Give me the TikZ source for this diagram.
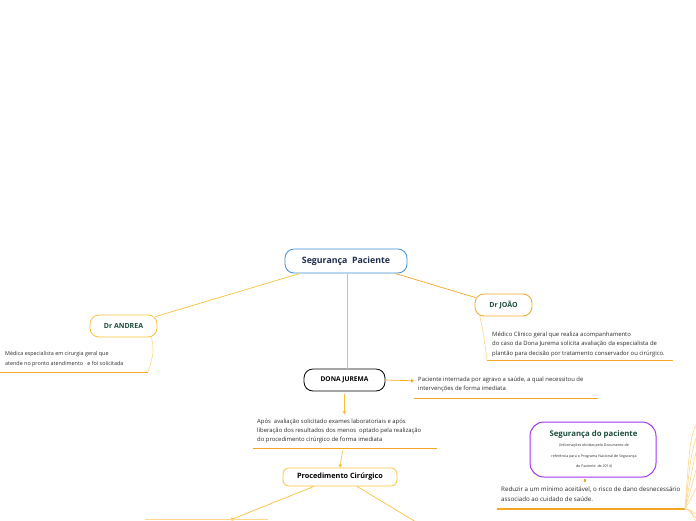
\documentclass[tikz,border=0pt]{standalone}
\usepackage{fontspec}
\setmainfont{Open Sans}
\usetikzlibrary{calc,arrows.meta}
\definecolor{lineor}{HTML}{F5A623}
\definecolor{lineye}{HTML}{F9C13A}
\definecolor{lightor}{HTML}{FFD68A}
\definecolor{bluebd}{HTML}{3D8FD1}
\definecolor{navy}{HTML}{1F2D4D}
\definecolor{dgreen}{HTML}{1D4D3B}
\definecolor{purp}{HTML}{A335F0}
\definecolor{txt}{HTML}{2B2B2B}
\tikzset{
  topic/.style={draw, rounded corners=9pt, line width=0.8pt, inner sep=0pt, align=center},
  note/.style={anchor=north west, inner sep=0pt, align=left, text=txt, font=\fontsize{5.9}{9.2}\selectfont},
  conn/.style={draw=lineye, line width=0.7pt},
  connor/.style={draw=lineor, line width=0.7pt},
  soft/.style={draw=lightor, line width=0.6pt},
  uline/.style={draw=lineor, line width=1pt},
  arr/.style={-{Triangle[length=3pt,width=3.5pt]}},
}
\begin{document}
\begin{tikzpicture}[x=1pt,y=-1pt]
\useasboundingbox (0,0) rectangle (696,520);
% main topic
\node[topic, draw=bluebd, minimum width=122pt, minimum height=24pt, text=navy, font=\fontsize{8.8}{10}\selectfont\bfseries] (seg) at (346,261) {Segurança\ \ Paciente};
% Dr ANDREA
\node[topic, draw=lineye, minimum width=67pt, minimum height=22pt, text=dgreen, font=\fontsize{7}{9}\selectfont\bfseries] (andrea) at (123.5,326) {Dr ANDREA};
\node[note, font=\fontsize{5.4}{9.4}\selectfont] (andreatxt) at (5,351.5) {Médica especialista em cirurgia geral que\\atende no pronto atendimento \ \ e foi solicitada};
\coordinate (au0) at (0,372);
\coordinate (au1) at (148,372);
\draw[uline] (au0) -- (au1);
\draw[conn] ($(seg.south)+(-46,0)$) -- ($(andrea.north east)+(-2,2)$);
\draw[soft] ($(andrea.south east)+(-6,-1)$) .. controls (154,352) .. (au1);
% Dr JOAO
\node[topic, draw=lineor, minimum width=57pt, minimum height=22pt, text=dgreen, font=\fontsize{7}{9}\selectfont\bfseries] (joao) at (503.5,305) {Dr JOÃO};
\node[note] (joaotxt) at (492,332) {Médico Clinico geral que realiza acompanhamento\\do caso da Dona Jurema solicita avaliação da especialista de\\plantão para decisão por tratamento conservador ou cirúrgico.};
\coordinate (ju0) at (487,360);
\coordinate (ju1) at (673,360);
\draw[uline] (ju0) -- (ju1);
\draw[connor] ($(seg.south)+(49,0)$) -- ($(joao.north west)+(1,4)$);
\draw[soft] ($(joao.south west)+(5,-1)$) .. controls (483,330) .. (ju0);
% DONA JUREMA
\node[topic, draw=black, line width=0.8pt, minimum width=81pt, minimum height=22pt, text=black, font=\fontsize{6.6}{9}\selectfont\bfseries] (jur) at (344.5,380) {DONA JUREMA};
\draw[conn] (seg.south) ++(1,0) coordinate (sj) -- (sj |- jur.north);
\node[note] (jurtxt) at (418,377) {Paciente internada por agravo a saúde, a qual necessitou de\\intervenções de forma imediata};
\coordinate (jtu0) at (414,398);
\coordinate (jtu1) at (598,398);
\draw[uline] (jtu0) -- (jtu1);
\draw[connor, arr] (jur.east) -- ($(jurtxt.west)+(-4,-4)$);
% Apos text
\node[note] (apos) at (257,418.5) {Após\ \ avaliação solicitado exames laboratoriais e após\\liberação dos resultados dos menos\ \ optado pela realização\\do procedimento cirúrgico de forma imediata};
\coordinate (apu0) at (253,448);
\coordinate (apu1) at (437,448);
\draw[uline] (apu0) -- (apu1);
\draw[conn, arr] (jur.south) ++(0,3) -- ($(jur.south)+(0,23)$);
% Procedimento
\node[topic, draw=lineye, rounded corners=6pt, minimum width=114pt, minimum height=18pt, text=black, font=\fontsize{7.3}{9}\selectfont\bfseries] (proc) at (340,477) {Procedimento Cirúrgico};
\draw[conn, arr] (342.5,451) -- (proc.north);
\coordinate (pl) at (230,520);
\coordinate (pr) at (416,522);
\draw[conn, arr] ($(proc.south)+(-26,0)$) -- (pl);
\draw[conn] ($(proc.south)+(17,0)$) -- (pr);
\draw[draw=lightor, line width=1pt] (145,519.5) -- (268,519.5);
% Seguranca do paciente
\node[topic, draw=purp, line width=1pt, rounded corners=14pt, minimum width=126pt, minimum height=55pt] (sdp) at (593,449.5) {};
\node[text=dgreen, font=\fontsize{7.8}{10}\selectfont\bfseries, inner sep=0pt] (sdpt) at (593.5,434) {Segurança do paciente};
\node[font=\fontsize{3.6}{10.5}\selectfont, text=txt, align=center, inner sep=0pt, anchor=north] (sdps) at (594,444) {(Informações obtidas pelo Documento de\\referência para o Programa Nacional de Segurança\\do Paciente\ \ de 2014)};
\draw[draw=lineor, line width=1.2pt] (sdp.south) ++(-8,1) -- ++(0,3);
\node[note, font=\fontsize{6.2}{10}\selectfont] (red) at (501,487) {Reduzir a um mínimo aceitável, o risco de dano desnecessário\\associado ao cuidado de saúde.};
\coordinate (ru0) at (497,509);
\coordinate (ru1) at (685,509);
\draw[uline, line width=1.2pt] (ru0) -- (ru1);
\foreach \yy/\cx/\cy in {425/690/440, 438/691/455, 452/692/470, 470/692/485, 488/693/495}{
  \draw[soft] (ru1) .. controls (\cx,\cy) .. (696,\yy);
}
\foreach \yy in {514,518,522}{
  \draw[soft] (ru1) .. controls (690,510) .. (696,\yy);
}
\end{tikzpicture}
\end{document}
